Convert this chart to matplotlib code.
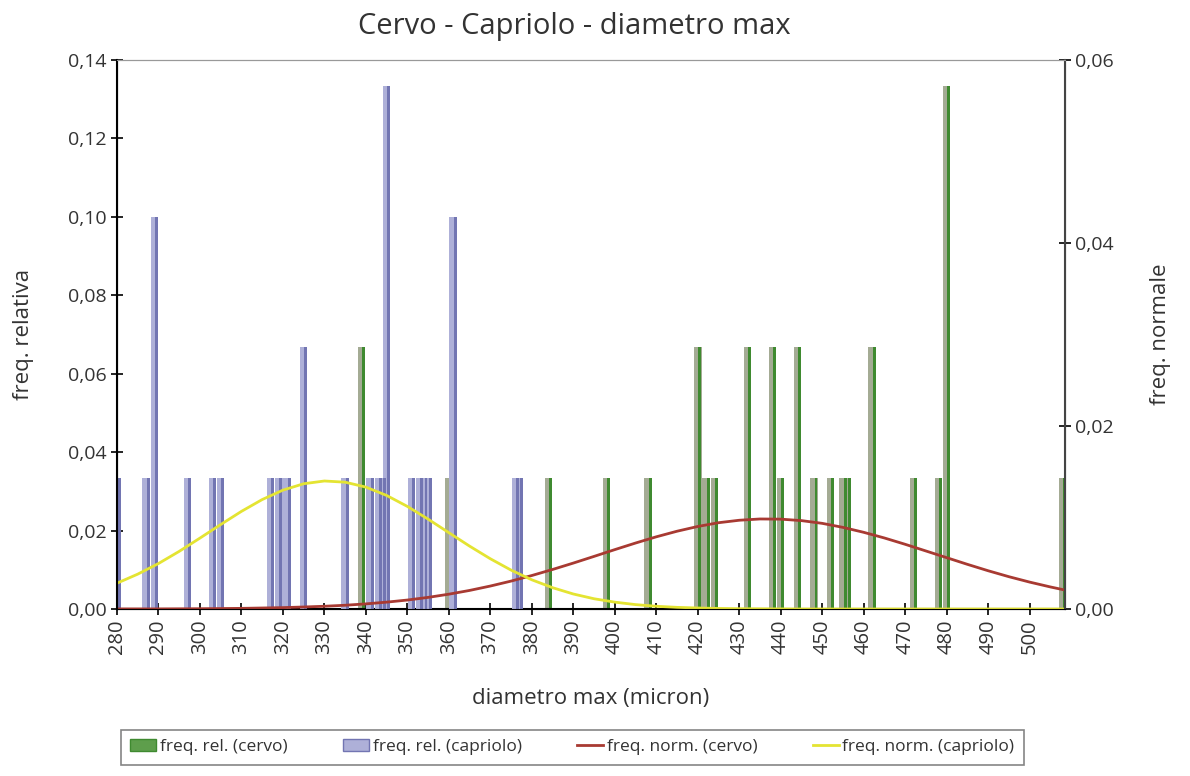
import matplotlib
matplotlib.use("Agg")
import matplotlib.pyplot as plt
from matplotlib.patches import Patch
from matplotlib.lines import Line2D
import numpy as np

plt.rcParams['font.family'] = ['Open Sans', 'DejaVu Sans']
plt.rcParams['text.color'] = '#333333'
plt.rcParams['axes.labelcolor'] = '#333333'
plt.rcParams['xtick.labelcolor'] = '#333333'
plt.rcParams['ytick.labelcolor'] = '#333333'

# ---------------- data ----------------
# relative frequency bars (n = 30 each, so steps of 1/30)
cervoX = [339, 360, 384, 398, 408, 420, 422, 424, 432, 438, 440, 444, 448,
          452, 455, 456, 462, 472, 478, 480, 508]
cervoF = [0.0667, 0.0333, 0.0333, 0.0333, 0.0333, 0.0667, 0.0333, 0.0333,
          0.0667, 0.0667, 0.0333, 0.0667, 0.0333, 0.0333, 0.0333, 0.0333,
          0.0667, 0.0333, 0.0333, 0.1333, 0.0333]

caprX = [280, 287, 289, 297, 303, 305, 317, 319, 321, 325, 335, 341, 343,
         344, 345, 351, 353, 354, 355, 361, 376, 377]
caprF = [0.0333, 0.0333, 0.1, 0.0333, 0.0333, 0.0333, 0.0333, 0.0333,
         0.0333, 0.0667, 0.0333, 0.0333, 0.0333, 0.0333, 0.1333, 0.0333,
         0.0333, 0.0333, 0.0333, 0.1, 0.0333, 0.0333]

# normal curves (right axis), read every 5 micron
curveX = [280, 285, 290, 295, 300, 305, 310, 315, 320, 325, 330, 335, 340,
          345, 350, 355, 360, 365, 370, 375, 380, 385, 390, 395, 400, 405,
          410, 415, 420, 425, 430, 435, 440, 445, 450, 455, 460, 465, 470,
          475, 480, 485, 490, 495, 500, 505, 508]
normCervo = [0.00001, 0.00001, 0.00001, 0.00002, 0.00003, 0.00005, 0.00007,
             0.00011, 0.00015, 0.00022, 0.00030, 0.00041, 0.00056, 0.00075,
             0.00098, 0.00127, 0.00162, 0.00203, 0.00251, 0.00305, 0.00366,
             0.00432, 0.00502, 0.00575, 0.00649, 0.00721, 0.00789, 0.00850,
             0.00902, 0.00943, 0.00970, 0.00984, 0.00982, 0.00966, 0.00936,
             0.00892, 0.00838, 0.00776, 0.00707, 0.00634, 0.00561, 0.00488,
             0.00418, 0.00353, 0.00294, 0.00241, 0.00212]
normCapr = [0.00282, 0.00381, 0.00497, 0.00630, 0.00775, 0.00923, 0.01067,
            0.01196, 0.01299, 0.01369, 0.01399, 0.01386, 0.01332, 0.01241,
            0.01121, 0.00982, 0.00834, 0.00687, 0.00549, 0.00425, 0.00319,
            0.00233, 0.00164, 0.00112, 0.00075, 0.00048, 0.00030, 0.00018,
            0.00011, 0.00006, 0.00003, 0.00002, 0.00001, 0.0, 0.0, 0.0, 0.0,
            0.0, 0.0, 0.0, 0.0, 0.0, 0.0, 0.0, 0.0, 0.0, 0.0]

xTicks = list(range(280, 501, 10))
leftTicks = [0, 0.02, 0.04, 0.06, 0.08, 0.10, 0.12, 0.14]
rightTicks = [0, 0.02, 0.04, 0.06]

# ---------------- colours ----------------
GREEN_LIGHT = '#a4ab94'
GREEN_DARK = '#3f8a30'
BLUE_LIGHT = '#aeb0d8'
BLUE_DARK = '#7275b2'
RED = '#a83a32'
YELLOW = '#e4e432'


def fmt(v):
    return "{:.2f}".format(v).replace('.', ',')


fig = plt.figure(figsize=(11.9, 7.76), dpi=100)
ax = fig.add_axes([0.0983, 0.2152, 0.7966, 0.7075])

# bars: light body with a darker right edge (fake 3D look)
ax.bar(cervoX, cervoF, width=1.8, color=GREEN_LIGHT, zorder=2)
ax.bar(np.array(cervoX) + 0.5, cervoF, width=0.7, color=GREEN_DARK, zorder=2)
ax.bar(caprX, caprF, width=1.8, color=BLUE_LIGHT, zorder=3)
ax.bar(np.array(caprX) + 0.5, caprF, width=0.7, color=BLUE_DARK, zorder=3)

ax.set_xlim(280, 508.5)
ax.set_ylim(0, 0.14)
ax.set_xticks(xTicks)
ax.set_xticklabels([str(t) for t in xTicks], rotation=90, fontsize=14.5)
ax.set_yticks(leftTicks)
ax.set_yticklabels([fmt(t) for t in leftTicks], fontsize=14)
ax.tick_params(axis='both', direction='inout', length=8, width=1.2)
ax.set_ylabel('freq. relativa', fontsize=16, labelpad=24)
ax.set_xlabel('diametro max (micron)', fontsize=16, labelpad=24)

for side in ['left', 'bottom']:
    ax.spines[side].set_linewidth(1.5)
ax.spines['top'].set_color('#999999')
ax.spines['right'].set_color('#444444')

ax2 = ax.twinx()
ax2.plot(curveX, normCervo, color=RED, lw=2)
ax2.plot(curveX, normCapr, color=YELLOW, lw=2)
ax2.set_ylim(0, 0.06)
ax2.set_yticks(rightTicks)
ax2.set_yticklabels([fmt(t) for t in rightTicks], fontsize=14)
ax2.tick_params(axis='y', direction='inout', length=8, width=1.2)
ax2.set_ylabel('freq. normale', fontsize=16, labelpad=26)
ax2.spines['right'].set_linewidth(1.5)
ax2.spines['right'].set_color('#444444')
ax2.spines['top'].set_color('#999999')

fig.suptitle('Cervo - Capriolo - diametro max', fontsize=21, x=0.483, y=0.985)

handles = [Patch(facecolor='#5e9e4c', edgecolor=GREEN_DARK),
           Patch(facecolor=BLUE_LIGHT, edgecolor=BLUE_DARK),
           Line2D([], [], color=RED, lw=2),
           Line2D([], [], color=YELLOW, lw=2)]
labels = ['freq. rel. (cervo)', 'freq. rel. (capriolo)',
          'freq. norm. (cervo)', 'freq. norm. (capriolo)']
leg = fig.legend(handles, labels, loc='center', bbox_to_anchor=(0.481, 0.037),
                 ncol=4, fontsize=12.5, frameon=True, fancybox=False,
                 handlelength=1.5, handletextpad=0.2, columnspacing=3.2,
                 borderpad=0.55)
leg.get_frame().set_edgecolor('#666666')
leg.get_frame().set_linewidth(1.2)

fig.savefig('out.png', dpi=100)
